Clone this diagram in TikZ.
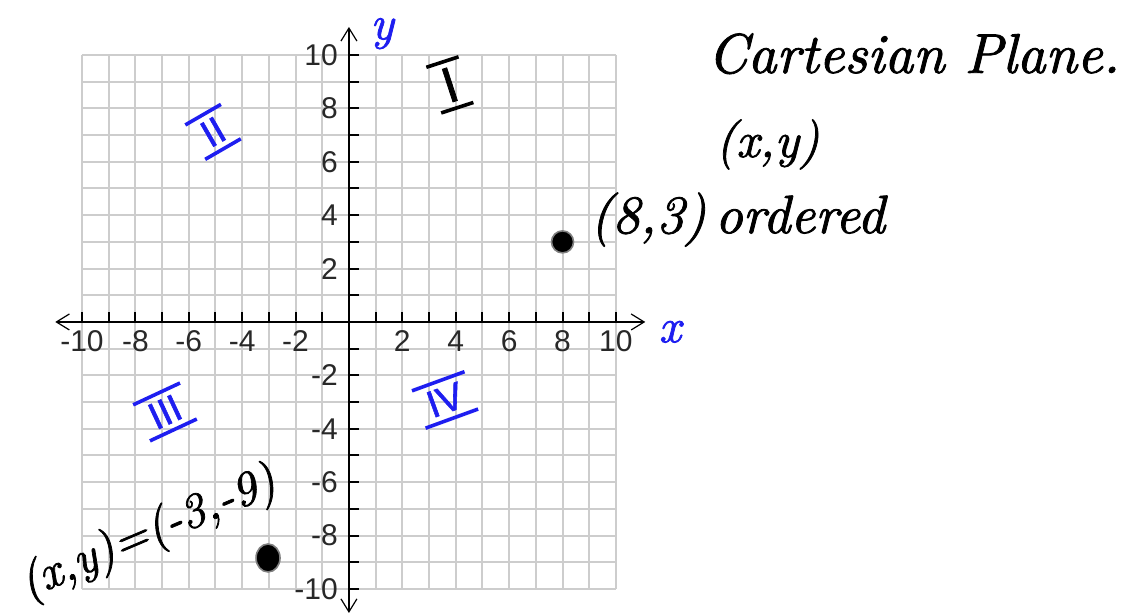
\documentclass[tikz,border=0pt]{standalone}
\usepackage{fontspec}
\newfontfamily\numfont{Liberation Sans}
\newfontfamily\handfont{lmroman10-italic}[Extension=.otf, FakeBold=1.5]
\newfontfamily\romfont{Liberation Sans}[FakeBold=1.5]
\usetikzlibrary{arrows.meta,shapes.geometric}
\definecolor{gridgray}{RGB}{205,205,205}
\definecolor{handblue}{RGB}{30,30,240}
\definecolor{numgray}{RGB}{40,40,40}
% roman numeral with a bar above and below
\newcommand{\barred}[1]{\vbox{\hrule height 1.8pt\kern 2.5pt\hbox{\kern 5pt#1\kern 5pt}\kern 2.5pt\hrule height 1.8pt}}

\begin{document}
\begin{tikzpicture}[x=13.35pt, y=13.35pt, line width=1pt,
  axisline/.style={line width=1pt, {Straight Barb[length=6.5pt,width=8pt,line width=0.6pt]}-{Straight Barb[length=6.5pt,width=8pt,line width=0.6pt]}},
  ticklabel/.style={font=\numfont\fontsize{15}{15}\selectfont, text=numgray, inner sep=0pt},
  hand/.style={font=\handfont\fontsize{#1}{#1}\selectfont, inner sep=0pt},
  hand/.default=25,
  numeral/.style={font=\romfont\fontsize{#1}{#1}\selectfont, text=handblue, inner sep=0pt},
  numeral/.default=19,
  dot/.style={circle, fill=black, draw=gray, line width=0.8pt, inner sep=0pt, minimum size=#1},
  dot/.default=11pt]
  \useasboundingbox (-13.07,-11.01) rectangle (29.48,12.06);

  % grid and axes
  \draw[gridgray, step={(1,1)}] (-10,-10) grid (10,10);
  \draw[axisline] (-11,0) -- (11.1,0);
  \draw[axisline] (0,-10.9) -- (0,11.05);
  \foreach \k in {-10,...,-1,1,2,...,10} {
    \draw (\k,0) -- (\k,0.37);
    \draw (0,\k) -- (0.37,\k);
  }
  \foreach \k in {-10,-8,-6,-4,-2,2,4,6,8,10} {
    \node[ticklabel, anchor=north] (xl\k) at (\k,-0.3) {\k};
    \node[ticklabel, anchor=east] (yl\k) at (-0.38,\k) {\k};
  }

  % axis names
  \node[hand=24, text=handblue] (xname) at (12.02,-0.37) {x};
  \node[hand=24, text=handblue] (yname) at (1.24,10.8) {y};

  % quadrants
  \node[numeral=25, text=black, rotate=18] (quadI) at (3.78,8.88) {\barred{I}};
  \node[numeral, rotate=30] (quadII) at (-5.09,7.12) {\barred{II}};
  \node[numeral, rotate=25] (quadIII) at (-6.89,-3.37) {\barred{III}};
  \node[numeral, rotate=20] (quadIV) at (3.6,-2.92) {\barred{IV}};

  % notes
  \node[hand=28, anchor=base west] (title) at (13.4,9.33) {Cartesian Plane.};
  \node[hand, anchor=base west] (pair) at (13.7,6.18) {(x,y)};
  \node[dot] (ptA) at (8,3) {};
  \node[hand=27, anchor=base west] (ordered) at (9.0,3.33) {(8,3)\,ordered};
  \node[dot=12pt, ellipse, minimum height=14pt] (ptB) at (-3.03,-8.84) {};
  \node[hand=24, rotate=23] (example) at (-7.5,-7.95) {(x,y)=(-3,-9)};
\end{tikzpicture}
\end{document}
